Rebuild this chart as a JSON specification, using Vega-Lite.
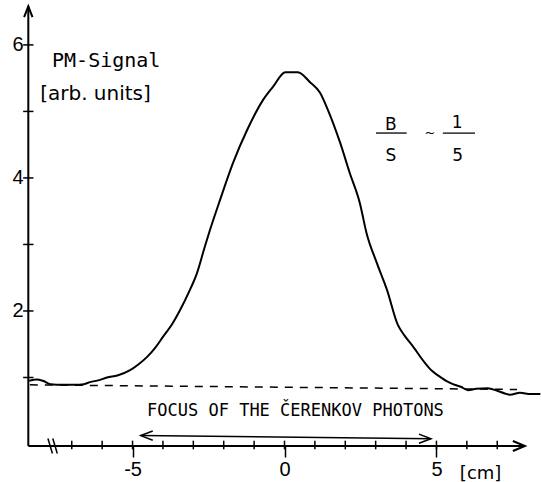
{
  "$schema": "https://vega.github.io/schema/vega-lite/v6.json",
  "width": 513,
  "height": 441,
  "autosize": {"type": "none"},
  "padding": {"left": 28, "top": 5, "right": 0, "bottom": 36},
  "background": "white",
  "config": {
    "view": {"stroke": null},
    "text": {"font": "DejaVu Sans", "color": "black"},
    "axis": {"domain": false, "grid": false, "labelColor": "black", "labelFontSize": 20, "labelFont": "Liberation Sans"},
    "axisX": {"ticks": true, "tickSize": 11, "tickWidth": 1.5, "tickColor": "black", "labelPadding": 2,
      "labelExpr": "datum.value < 0 ? '-' + (-datum.value) : '' + datum.value"},
    "axisY": {"ticks": false, "tickSize": 0, "labelPadding": 5, "labelExpr": "'' + datum.value"}
  },
  "datasets": {
    "signal": [
      {"x": -8.40, "y": 0.95}, {"x": -8.15, "y": 0.97}, {"x": -7.95, "y": 0.95}, {"x": -7.70, "y": 0.90},
      {"x": -7.30, "y": 0.89}, {"x": -6.90, "y": 0.89}, {"x": -6.60, "y": 0.90}, {"x": -6.40, "y": 0.93},
      {"x": -6.10, "y": 0.96}, {"x": -5.84, "y": 1.00}, {"x": -5.50, "y": 1.03}, {"x": -5.08, "y": 1.11},
      {"x": -4.80, "y": 1.20}, {"x": -4.52, "y": 1.31}, {"x": -4.25, "y": 1.45}, {"x": -4.00, "y": 1.61},
      {"x": -3.70, "y": 1.80}, {"x": -3.44, "y": 2.01}, {"x": -3.15, "y": 2.28}, {"x": -2.88, "y": 2.57},
      {"x": -2.62, "y": 2.97}, {"x": -2.45, "y": 3.22}, {"x": -2.12, "y": 3.67}, {"x": -1.69, "y": 4.23},
      {"x": -1.23, "y": 4.72}, {"x": -0.71, "y": 5.17}, {"x": -0.38, "y": 5.37}, {"x": 0.03, "y": 5.59},
      {"x": 0.44, "y": 5.59}, {"x": 0.84, "y": 5.44}, {"x": 1.17, "y": 5.28}, {"x": 1.43, "y": 5.02},
      {"x": 1.83, "y": 4.53}, {"x": 2.15, "y": 4.07}, {"x": 2.48, "y": 3.62}, {"x": 2.70, "y": 3.17},
      {"x": 3.04, "y": 2.72}, {"x": 3.37, "y": 2.32}, {"x": 3.73, "y": 1.79}, {"x": 3.95, "y": 1.63},
      {"x": 4.19, "y": 1.49}, {"x": 4.62, "y": 1.22}, {"x": 4.85, "y": 1.10}, {"x": 5.12, "y": 1.01},
      {"x": 5.35, "y": 0.94}, {"x": 5.54, "y": 0.90}, {"x": 5.80, "y": 0.86}, {"x": 6.04, "y": 0.81},
      {"x": 6.30, "y": 0.83}, {"x": 6.69, "y": 0.84}, {"x": 7.00, "y": 0.80}, {"x": 7.25, "y": 0.76},
      {"x": 7.42, "y": 0.74}, {"x": 7.75, "y": 0.77}, {"x": 8.10, "y": 0.75}, {"x": 8.42, "y": 0.75}
    ],
    "lines": [
      {"x": -8.43, "y": -0.03, "x2": -8.43, "y2": 6.58},
      {"x": -8.43, "y": -0.03, "x2": 7.91, "y2": -0.03}
    ],
    "focusArrow": [{"x": -4.73, "y": 0.126, "x2": 4.82, "y2": 0.08}],
    "bars": [
      {"x": 3.01, "x2": 4.02, "y": 4.675},
      {"x": 5.21, "x2": 6.27, "y": 4.675}
    ],
    "xticks": [
      {"x": -7}, {"x": -6}, {"x": -5}, {"x": -4}, {"x": -3}, {"x": -2}, {"x": -1}, {"x": 0},
      {"x": 1}, {"x": 2}, {"x": 3}, {"x": 4}, {"x": 5}, {"x": 6}, {"x": 7}
    ],
    "yticks": [{"y": 1}, {"y": 2}, {"y": 3}, {"y": 4}, {"y": 5}, {"y": 6}],
    "breaks": [{"x": -7.71}, {"x": -7.55}]
  },
  "layer": [
    {
      "data": {"name": "signal"},
      "mark": {"type": "line", "color": "black", "strokeWidth": 2, "interpolate": "monotone"},
      "encoding": {
        "x": {"field": "x", "type": "quantitative", "title": null, "scale": {"domain": [-8.44, 8.44], "nice": false, "zero": false},
          "axis": {"values": [-5, 0, 5], "title": null, "labelFontSize": 20, "labelFont": "Liberation Sans"}},
        "y": {"field": "y", "type": "quantitative", "title": null, "scale": {"domain": [-0.03, 6.6], "nice": false, "zero": false},
          "axis": {"values": [2, 4, 6], "title": null, "format": "d", "labelFontSize": 20, "labelFont": "Liberation Sans"}}
      }
    },
    {
      "data": {"name": "lines"},
      "mark": {"type": "rule", "color": "black", "strokeWidth": 2},
      "encoding": {
        "x": {"field": "x", "type": "quantitative", "title": null},
        "y": {"field": "y", "type": "quantitative", "title": null},
        "x2": {"field": "x2"},
        "y2": {"field": "y2"}
      }
    },
    {
      "data": {"values": [{"x": -8.38, "y": 0.89, "x2": 7.65, "y2": 0.82}]},
      "mark": {"type": "rule", "color": "black", "strokeWidth": 1.5, "strokeDash": [8, 7]},
      "encoding": {
        "x": {"field": "x", "type": "quantitative", "title": null},
        "y": {"field": "y", "type": "quantitative", "title": null},
        "x2": {"field": "x2"},
        "y2": {"field": "y2"}
      }
    },
    {
      "data": {"name": "focusArrow"},
      "mark": {"type": "rule", "color": "black", "strokeWidth": 1.5},
      "encoding": {
        "x": {"field": "x", "type": "quantitative", "title": null},
        "y": {"field": "y", "type": "quantitative", "title": null},
        "x2": {"field": "x2"},
        "y2": {"field": "y2"}
      }
    },
    {
      "data": {"name": "focusArrow"},
      "mark": {"type": "point", "shape": "M1,-0.38L0,0L1,0.38", "filled": false, "stroke": "black", "strokeWidth": 1.5, "size": 576, "opacity": 1},
      "encoding": {
        "x": {"field": "x", "type": "quantitative", "title": null},
        "y": {"field": "y", "type": "quantitative", "title": null}
      }
    },
    {
      "data": {"name": "focusArrow"},
      "mark": {"type": "point", "shape": "M-1,-0.38L0,0L-1,0.38", "filled": false, "stroke": "black", "strokeWidth": 1.5, "size": 576, "opacity": 1},
      "encoding": {
        "x": {"field": "x2", "type": "quantitative", "title": null},
        "y": {"field": "y2", "type": "quantitative", "title": null}
      }
    },
    {
      "data": {"name": "lines"},
      "transform": [{"filter": "datum.y2 > 1"}],
      "mark": {"type": "point", "shape": "M-0.35,0.9L0,0L0.35,0.9", "filled": false, "stroke": "black", "strokeWidth": 2, "size": 576, "opacity": 1},
      "encoding": {
        "x": {"field": "x2", "type": "quantitative", "title": null},
        "y": {"field": "y2", "type": "quantitative", "title": null}
      }
    },
    {
      "data": {"name": "lines"},
      "transform": [{"filter": "datum.y2 < 1"}],
      "mark": {"type": "point", "shape": "M-1,-0.42L0,0L-1,0.42", "filled": false, "stroke": "black", "strokeWidth": 2, "size": 576, "opacity": 1},
      "encoding": {
        "x": {"field": "x2", "type": "quantitative", "title": null},
        "y": {"field": "y2", "type": "quantitative", "title": null}
      }
    },
    {
      "data": {"name": "xticks"},
      "mark": {"type": "rule", "color": "black", "strokeWidth": 1.5},
      "encoding": {
        "x": {"field": "x", "type": "quantitative", "title": null},
        "y": {"datum": 0.05, "type": "quantitative", "title": null},
        "y2": {"datum": -0.08}
      }
    },
    {
      "data": {"name": "yticks"},
      "mark": {"type": "rule", "color": "black", "strokeWidth": 1.5},
      "encoding": {
        "y": {"field": "y", "type": "quantitative", "title": null},
        "x": {"datum": -8.6, "type": "quantitative", "title": null},
        "x2": {"datum": -8.26}
      }
    },
    {
      "data": {"name": "breaks"},
      "mark": {"type": "point", "shape": "M-0.3,-1L0.3,1", "filled": false, "stroke": "black", "strokeWidth": 1.5, "size": 225, "opacity": 1},
      "encoding": {
        "x": {"field": "x", "type": "quantitative", "title": null},
        "y": {"datum": -0.03, "type": "quantitative", "title": null}
      }
    },
    {
      "data": {"name": "bars"},
      "mark": {"type": "rule", "color": "black", "strokeWidth": 1.3},
      "encoding": {
        "x": {"field": "x", "type": "quantitative", "title": null},
        "x2": {"field": "x2"},
        "y": {"field": "y", "type": "quantitative", "title": null}
      }
    },
    {
      "data": {"values": [{"x": -7.65, "y": 5.67, "label": "PM-Signal"}]},
      "mark": {"type": "text", "align": "left", "baseline": "alphabetic", "font": "DejaVu Sans Mono", "fontSize": 20},
      "encoding": {
        "x": {"field": "x", "type": "quantitative", "title": null},
        "y": {"field": "y", "type": "quantitative", "title": null},
        "text": {"field": "label"}
      }
    },
    {
      "data": {"values": [{"x": -8.04, "y": 5.17, "label": "[arb. units]"}]},
      "mark": {"type": "text", "align": "left", "baseline": "alphabetic", "fontSize": 20},
      "encoding": {
        "x": {"field": "x", "type": "quantitative", "title": null},
        "y": {"field": "y", "type": "quantitative", "title": null},
        "text": {"field": "label"}
      }
    },
    {
      "data": {"values": [{"x": 0.36, "y": 0.42, "label": "FOCUS OF THE ČERENKOV PHOTONS"}]},
      "mark": {"type": "text", "align": "center", "baseline": "alphabetic", "font": "DejaVu Sans Mono", "fontSize": 17},
      "encoding": {
        "x": {"field": "x", "type": "quantitative", "title": null},
        "y": {"field": "y", "type": "quantitative", "title": null},
        "text": {"field": "label"}
      }
    },
    {
      "data": {"values": [{"x": 5.77, "y": -0.52, "label": "[cm]"}]},
      "mark": {"type": "text", "align": "left", "baseline": "alphabetic", "fontSize": 18},
      "encoding": {
        "x": {"field": "x", "type": "quantitative", "title": null},
        "y": {"field": "y", "type": "quantitative", "title": null},
        "text": {"field": "label"}
      }
    },
    {
      "data": {"values": [
        {"x": 3.50, "y": 4.72, "label": "B"},
        {"x": 3.50, "y": 4.25, "label": "S"},
        {"x": 5.68, "y": 4.75, "label": "1"},
        {"x": 5.70, "y": 4.25, "label": "5"}
      ]},
      "mark": {"type": "text", "align": "center", "baseline": "alphabetic", "fontSize": 17},
      "encoding": {
        "x": {"field": "x", "type": "quantitative", "title": null},
        "y": {"field": "y", "type": "quantitative", "title": null},
        "text": {"field": "label"}
      }
    },
    {
      "data": {"values": [{"x": 4.79, "y": 4.68, "label": "~"}]},
      "mark": {"type": "text", "align": "center", "baseline": "middle", "fontSize": 13},
      "encoding": {
        "x": {"field": "x", "type": "quantitative", "title": null},
        "y": {"field": "y", "type": "quantitative", "title": null},
        "text": {"field": "label"}
      }
    }
  ]
}
